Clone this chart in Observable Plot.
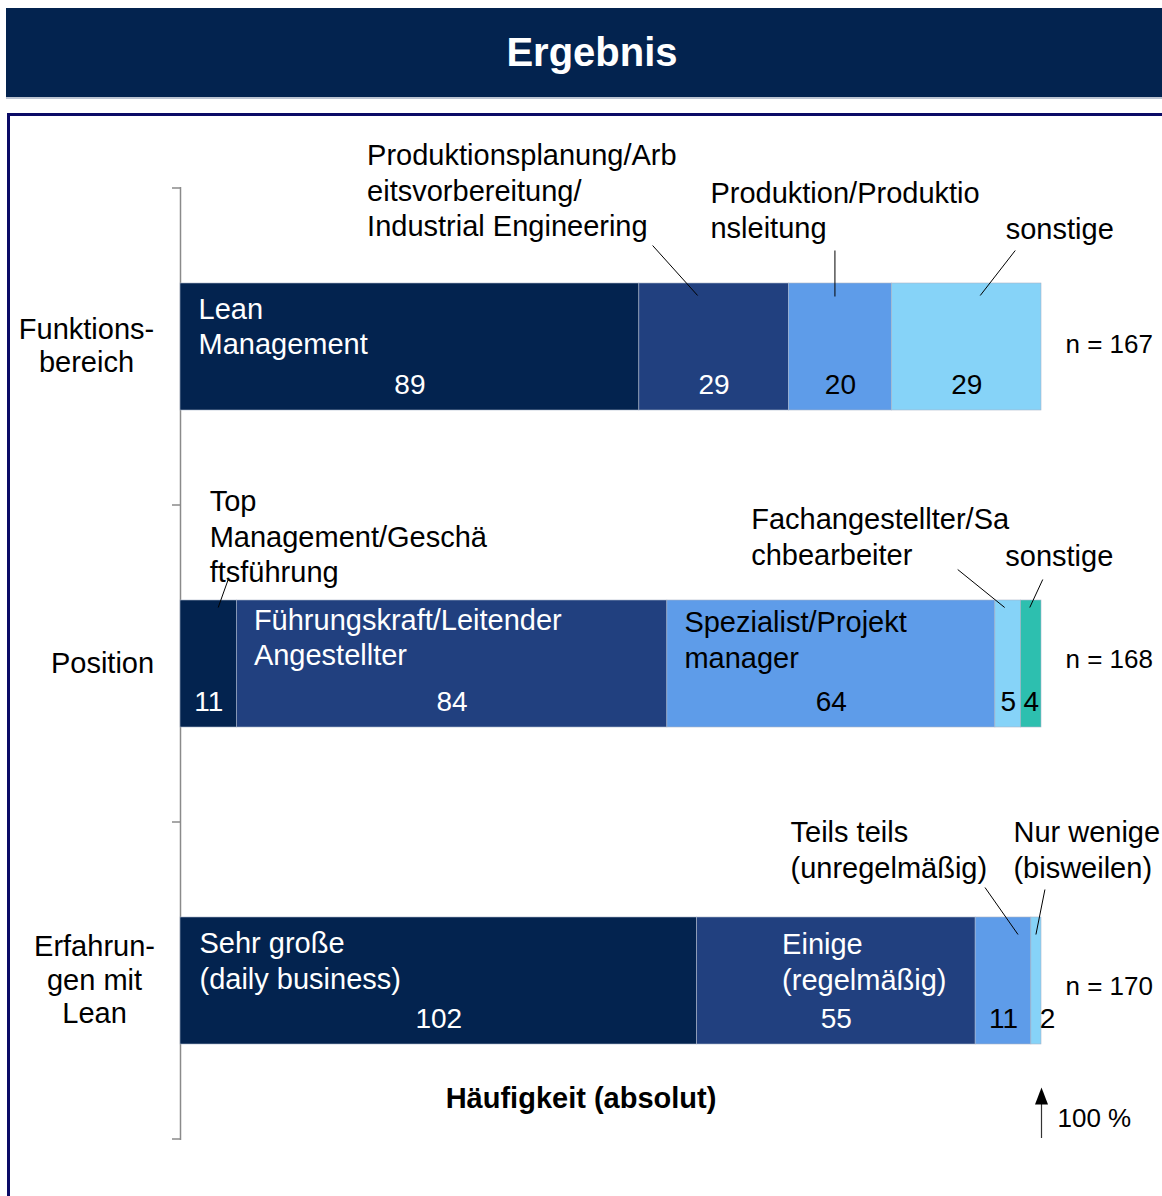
<!DOCTYPE html>
<html>
<head>
<meta charset="utf-8">
<script src="https://cdn.jsdelivr.net/npm/d3@7"></script>
<script src="https://cdn.jsdelivr.net/npm/@observablehq/plot@0.6"></script>
<style>
  html, body { margin: 0; padding: 0; background: #fff; width: 1162px; height: 1196px; overflow: hidden;
    font-family: "Liberation Sans", Arial, sans-serif; }
  #banner { position: absolute; left: 6px; top: 8px; width: 1172px; height: 89px; background: #03234F;
    color: #fff; font-weight: bold; font-size: 40px; display: flex; align-items: center; justify-content: center;
    box-shadow: 0 2px 0 #bcc4d2; }
  #frame { position: absolute; left: 7px; top: 113px; width: 1180px; height: 1120px;
    border-top: 3px solid #0b0b66; border-left: 3px solid #0b0b66; }
  #chart { position: absolute; left: 0; top: 117px; }
</style>
</head>
<body>
<div id="banner">Ergebnis</div>
<div id="frame"></div>
<div id="chart"></div>
<script>
// ---------------- data ----------------
const groups = ["Funktionsbereich", "Position", "Erfahrungen mit Lean"];
const groupLabels = ["Funktions-\nbereich", "Position", "Erfahrun-\ngen mit\nLean"];
const sampleSizes = [167, 168, 170];

const funktionCategories = ["Lean\nManagement", "Produktionsplanung/Arb\neitsvorbereitung/\nIndustrial Engineering", "Produktion/Produktio\nnsleitung", "sonstige"];
const funktionValues = [89, 29, 20, 29];

const positionCategories = ["Top\nManagement/Geschä\nftsführung", "Führungskraft/Leitender\nAngestellter", "Spezialist/Projekt\nmanager", "Fachangestellter/Sa\nchbearbeiter", "sonstige"];
const positionValues = [11, 84, 64, 5, 4];

const erfahrungCategories = ["Sehr große\n(daily business)", "Einige\n(regelmäßig)", "Teils teils\n(unregelmäßig)", "Nur wenige\n(bisweilen)"];
const erfahrungValues = [102, 55, 11, 2];

const segmentColors = ["#03234F", "#21407F", "#5E9CE9", "#86D3F8", "#2DBFAF"];
const axisTitle = "Häufigkeit (absolut)";
const scaleNote = "100 %";

// ---------------- layout (label placement offsets, px, relative to segment / band centre) ----------------
const labelLayout = [
  [ {inside: [18, -22]},
    {callout: [-347, -157.5], line: [-61, -101, -16, -51]},
    {callout: [-130, -138], line: [-5, -96, -5, -50]},
    {callout: [39, -119], line: [49, -96, 14, -51]} ],
  [ {callout: [1, -128.5], line: [20, -84, 10, -56]},
    {inside: [17, -28]},
    {inside: [17, -25.5]},
    {callout: [-257, -128.5], line: [-50, -94, -3, -56]},
    {callout: [-26, -109], line: [12, -84, -1, -56]} ],
  [ {inside: [19, -21.5]},
    {inside: [85, -20.5]},
    {callout: [-213, -132.5], line: [-18, -93, 15, -46]},
    {callout: [-23, -132.5], line: [9, -91, 0, -46]} ]
];
const groupLabelDx = [-94, -78, -86];
const nLabelDy = [-2, -4, 6];

// ---------------- table ----------------
const series = [[funktionCategories, funktionValues], [positionCategories, positionValues], [erfahrungCategories, erfahrungValues]];
const rows = [];
series.forEach(([cats, vals], g) => {
  const total = d3.sum(vals);
  let acc = 0;
  vals.forEach((v, i) => {
    rows.push({group: groups[g], g, idx: i, label: cats[i], value: v,
      start: acc / total, end: (acc + v) / total, mid: (acc + v / 2) / total, share: v / total,
      layout: labelLayout[g][i]});
    acc += v;
  });
});

const FONT = 29;
const marks = [];

// axis line
marks.push(Plot.ruleX([0], {x: d => d, stroke: "#8a8a8a", strokeWidth: 1.5}));

// bars
marks.push(Plot.barX(rows, {x1: "start", x2: "end", y: "group", fill: d => segmentColors[d.idx],
  stroke: "#a9b4c8", strokeWidth: 0.6}));

// value labels
marks.push(Plot.text(rows, {filter: d => d.share >= 0.02, x: "mid", y: "group", text: d => String(d.value),
  fill: d => d.idx < 2 ? "white" : "black", dy: 38, fontSize: 28}));
marks.push(Plot.text(rows, {filter: d => d.share < 0.02, x: "mid", y: "group", text: d => String(d.value),
  fill: "black", dy: 38, dx: 11, fontSize: 28}));

// segment name labels
for (const r of rows) {
  if (r.layout.inside) {
    const [dx, dy] = r.layout.inside;
    marks.push(Plot.text([r], {x: "start", y: "group", text: "label", dx, dy, textAnchor: "start",
      lineAnchor: "middle", fill: r.idx < 2 ? "white" : "black", fontSize: FONT, lineHeight: 1.22}));
  } else if (r.layout.callout) {
    const [dx, dy] = r.layout.callout;
    marks.push(Plot.text([r], {x: "mid", y: "group", text: "label", dx, dy, textAnchor: "start",
      lineAnchor: "middle", fill: "black", fontSize: FONT, lineHeight: 1.22}));
  }
}

// leader lines + category ticks, positioned through Plot's scales
marks.push((index, scales) => {
  const sx = typeof scales.x === "function" ? scales.x : scales.x.apply;
  const sy = scales.y;
  const bw = sy.bandwidth(), step = sy.step();
  const g = d3.create("svg:g");
  for (const r of rows) {
    if (!r.layout.line) continue;
    const cx = sx(r.mid), cy = sy(r.group) + bw / 2;
    const [a, b, c, d] = r.layout.line;
    g.append("line").attr("x1", cx + a).attr("y1", cy + b).attr("x2", cx + c).attr("y2", cy + d)
      .attr("stroke", "#000").attr("stroke-width", 1);
  }
  const x0 = sx(0);
  const bounds = groups.map(k => sy(k) - (step - bw) / 2);
  bounds.push(sy(groups[groups.length - 1]) + bw + (step - bw) / 2);
  for (const yy of bounds) {
    g.append("line").attr("x1", x0 - 8).attr("x2", x0).attr("y1", yy).attr("y2", yy)
      .attr("stroke", "#8a8a8a").attr("stroke-width", 1.5);
  }
  return g.node();
});

// group labels
groups.forEach((k, i) => {
  marks.push(Plot.text([k], {x: () => 0, y: d => d, text: () => groupLabels[i], dx: groupLabelDx[i], dy: -2,
    textAnchor: "middle", lineAnchor: "middle", fontSize: FONT, lineHeight: 1.155, fill: "black"}));
});

// n labels
groups.forEach((k, i) => {
  marks.push(Plot.text([k], {x: () => 1, y: d => d, text: () => `n = ${sampleSizes[i]}`, dx: 24, dy: nLabelDy[i],
    textAnchor: "start", lineAnchor: "middle", fontSize: 26, fill: "black"}));
});

// axis title
marks.push(Plot.text([axisTitle], {x: () => 0.5, text: d => d, frameAnchor: "bottom", dy: -42, dx: -30,
  lineAnchor: "middle", fontWeight: "bold", fontSize: FONT, fill: "black"}));

// 100 % arrow
const arrowHead = {draw(ctx) { ctx.moveTo(0, -11); ctx.lineTo(6.5, 6); ctx.lineTo(-6.5, 6); ctx.closePath(); }};
marks.push(Plot.ruleX([1], {x: d => d, stroke: "#333", strokeWidth: 1.2, insetTop: 911, insetBottom: 2}));
marks.push(Plot.dot([1], {x: d => d, frameAnchor: "bottom", dy: -42, symbol: arrowHead, fill: "black", stroke: "none"}));
marks.push(Plot.text([scaleNote], {x: () => 1, text: d => d, frameAnchor: "bottom", dy: -22, dx: 16,
  textAnchor: "start", lineAnchor: "middle", fontSize: 26, fill: "black"}));

const chart = Plot.plot({
  width: 1162,
  height: 1079,
  marginTop: 70,
  marginBottom: 56,
  marginLeft: 180,
  marginRight: 121,
  x: {domain: [0, 1], axis: null},
  y: {type: "band", domain: groups, paddingInner: 0.6, paddingOuter: 0.3, axis: null},
  color: {type: "identity"},
  style: {fontFamily: "'Liberation Sans', Arial, sans-serif", fontSize: "28px", background: "transparent", overflow: "visible"},
  marks
});
document.getElementById("chart").appendChild(chart);
</script>
</body>
</html>
